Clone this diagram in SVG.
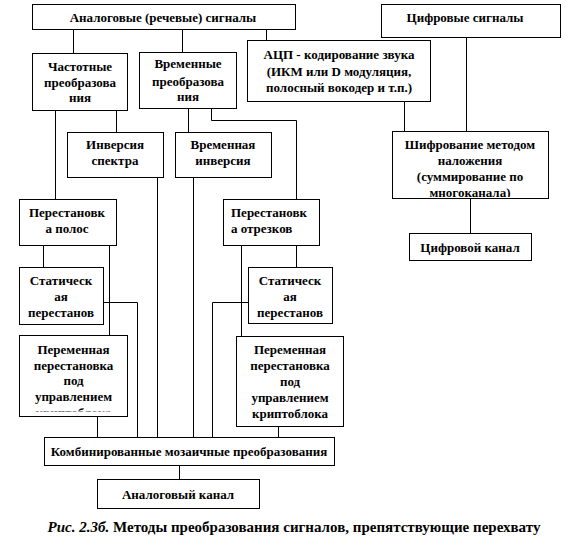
<svg xmlns="http://www.w3.org/2000/svg" width="580" height="553" viewBox="0 0 580 553">
<style>
.b{fill:#fff;stroke:#000;stroke-width:1}
.t{font-family:'Liberation Serif','DejaVu Serif',serif;font-weight:bold;font-size:13px;fill:#000;text-anchor:middle}
.l{text-anchor:start}
.c{fill:none;stroke:#000;stroke-width:1}
.cap{font-family:'Liberation Serif','DejaVu Serif',serif;font-weight:bold;font-size:15px;fill:#000;text-anchor:middle}
</style>
<defs>
<clipPath id="clipEnc"><rect x="392" y="131" width="156" height="66"/></clipPath>
<clipPath id="clipVarL"><rect x="19" y="335" width="109" height="76.5"/></clipPath>
</defs>
<rect width="580" height="553" fill="#fff"/>
<g id="connectors">
<path class="c" d="M73.5 29V53M182.5 29V52M266.5 29V40M404.5 101V131M466.5 37V131M470.5 198V233M55.5 110V199M116.5 110V132M188.5 108V132M211.5 108V120.5H296.5V199M157.5 177V437M193.5 177V437M43.5 245V267M109.5 245V335M103 302.5H137.5V437M97.5 416V437M241.5 245V336M296.5 245V267M248 302.5H212.5V437M278.5 426V437M179.5 465V479"/>
</g>
<g id="analog_signals">
<rect class="b" x="32.5" y="4.5" width="263" height="25"/>
<text class="t" x="163" y="21.5" font-size="12.6">Аналоговые (речевые) сигналы</text>
</g>
<g id="digital_signals">
<rect class="b" x="381.5" y="4.5" width="179" height="33"/>
<text class="t" x="465" y="21.5" font-size="12.6">Цифровые сигналы</text>
</g>
<g id="freq">
<rect class="b" x="32.5" y="53.5" width="95" height="57"/>
<text class="t" x="80" y="71">Частотные</text>
<text class="t" x="80" y="86.5">преобразова</text>
<text class="t" x="80" y="102">ния</text>
</g>
<g id="time">
<rect class="b" x="139.5" y="52.5" width="97" height="56"/>
<text class="t" x="188" y="68">Временные</text>
<text class="t" x="188" y="85.5">преобразова</text>
<text class="t" x="188" y="101">ния</text>
</g>
<g id="adc">
<rect class="b" x="247.5" y="40.5" width="183" height="61"/>
<text class="t" x="339" y="59">АЦП - кодирование звука</text>
<text class="t" x="339" y="76">(ИКМ или D модуляция,</text>
<text class="t" x="339" y="92">полосный вокодер и т.п.)</text>
</g>
<g id="inv_spectrum">
<rect class="b" x="67.5" y="132.5" width="96" height="45"/>
<text class="t" x="115" y="149">Инверсия</text>
<text class="t" x="115" y="165">спектра</text>
</g>
<g id="time_inv">
<rect class="b" x="175.5" y="132.5" width="96" height="45"/>
<text class="t" x="223" y="149">Временная</text>
<text class="t" x="223" y="165">инверсия</text>
</g>
<g id="encrypt">
<rect class="b" x="392.5" y="131.5" width="156" height="67"/>
<g clip-path="url(#clipEnc)">
<text class="t" x="470" y="149">Шифрование методом</text>
<text class="t" x="470" y="165">наложения</text>
<text class="t" x="470" y="180.5">(суммирование по</text>
<text class="t" x="470" y="196.5">многоканала)</text>
</g>
</g>
<g id="digital_channel">
<rect class="b" x="409.5" y="233.5" width="122" height="27"/>
<text class="t" x="470" y="251.5">Цифровой канал</text>
</g>
<g id="band_perm">
<rect class="b" x="19.5" y="199.5" width="97" height="46"/>
<text class="t" x="67" y="217">Перестановк</text>
<text class="t" x="67" y="233">а полос</text>
</g>
<g id="seg_perm">
<rect class="b" x="223.5" y="199.5" width="96" height="46"/>
<text class="t l" x="231" y="217">Перестановк</text>
<text class="t l" x="231" y="233">а отрезков</text>
</g>
<g id="static_left">
<rect class="b" x="19.5" y="267.5" width="84" height="57"/>
<text class="t" x="61" y="285">Статическ</text>
<text class="t" x="61" y="301">ая</text>
<text class="t" x="61" y="317">перестанов</text>
</g>
<g id="var_left">
<rect class="b" x="19.5" y="335.5" width="108" height="81"/>
<g clip-path="url(#clipVarL)">
<text class="t" x="73.5" y="354">Переменная</text>
<text class="t" x="73.5" y="369.5">перестановка</text>
<text class="t" x="73.5" y="385">под</text>
<text class="t" x="73.5" y="400.5">управлением</text>
<text class="t" x="73.5" y="416.5">криптоблока</text>
</g>
</g>
<g id="static_right">
<rect class="b" x="248.5" y="267.5" width="84" height="56"/>
<text class="t" x="290" y="285">Статическ</text>
<text class="t" x="290" y="301">ая</text>
<text class="t" x="290" y="317">перестанов</text>
</g>
<g id="var_right">
<rect class="b" x="236.5" y="336.5" width="107" height="90"/>
<text class="t" x="290" y="354">Переменная</text>
<text class="t" x="290" y="370">перестановка</text>
<text class="t" x="290" y="386">под</text>
<text class="t" x="290" y="401.5">управлением</text>
<text class="t" x="290" y="417.5">криптоблока</text>
</g>
<g id="combined">
<rect class="b" x="44.5" y="437.5" width="290" height="28"/>
<text class="t" x="189" y="456" font-size="12.5">Комбинированные мозаичные преобразования</text>
</g>
<g id="analog_channel">
<rect class="b" x="97.5" y="479.5" width="162" height="29"/>
<text class="t" x="178" y="498.5">Аналоговый канал</text>
</g>
<g id="caption">
<text class="cap" x="294" y="532"><tspan font-style="italic">Рис. 2.3б.</tspan> Методы преобразования сигналов, препятствующие перехвату</text>
</g>
</svg>
